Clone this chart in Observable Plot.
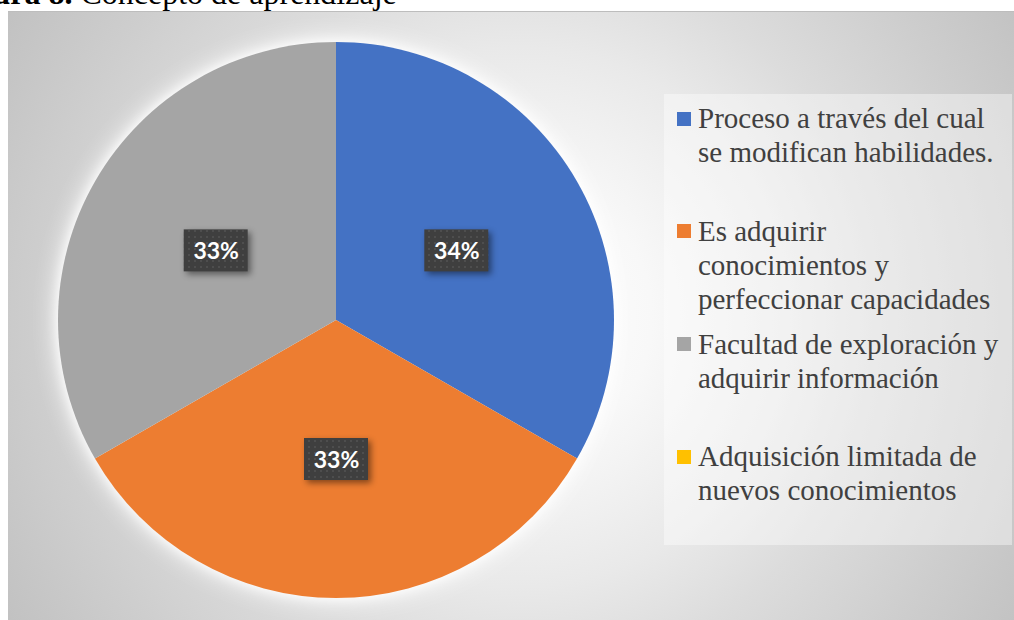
<!DOCTYPE html>
<html>
<head>
<meta charset="utf-8">
<script src="https://cdn.jsdelivr.net/npm/d3@7"></script>
<script src="https://cdn.jsdelivr.net/npm/@observablehq/plot@0.6"></script>
<style>
  body { margin: 0; background: #fff; }
  #wrap { position: relative; width: 1014px; height: 620px; overflow: hidden; background: #fff; }
  #frame { position: absolute; left: 8px; top: 11px; width: 1020px; height: 620px;
    border-top: 1px solid #bdbdbd;
    background: radial-gradient(circle 600px at 512px 305px, #ffffff 0%, #f8f8f8 22%, #e9e9e9 45%, #dcdcdc 60%, #cecece 80%, #c1c1c1 100%); }
  #title { position: absolute; top: -23px; left: -51px; font-family: "Liberation Serif", "Times New Roman", serif;
    font-size: 32px; line-height: 32px; white-space: pre; color: #000; }
  #chart { position: absolute; left: 0; top: 0; }
  #legend { position: absolute; left: 664px; top: 94px; width: 348px; height: 451px; background: rgba(255,255,255,0.4); }
  .item { position: absolute; left: 0; font-family: "Liberation Serif", "Times New Roman", serif; font-size: 29px; line-height: 34px; color: #404040; white-space: pre; }
  .sw { position: absolute; left: 13px; width: 14px; height: 14px; }
  .txt { position: absolute; left: 34px; top: 0; }
</style>
</head>
<body>
<div id="wrap">
  <div id="frame"></div>
  <div id="title"><b>Figura 8.</b> <span id="tmain">Concepto de aprendizaje</span></div>
  <div id="chart"></div>
  <div id="legend"></div>
</div>
<script>
// ---- Data ----
const categories = [
  "Proceso a través del cual se modifican habilidades.",
  "Es adquirir conocimientos y perfeccionar capacidades",
  "Facultad de exploración y adquirir información",
  "Adquisición limitada de nuevos conocimientos"
];
const values = [33.3, 33.4, 33.3, 0];
const percentLabels = ["34%", "33%", "33%", ""];
const colors = ["#4472C4", "#ED7D31", "#A5A5A5", "#FFC000"];
const legendLines = [
  ["Proceso a través del cual", "se modifican habilidades."],
  ["Es adquirir", "conocimientos y", "perfeccionar capacidades"],
  ["Facultad de exploración y", "adquirir información"],
  ["Adquisición limitada de", "nuevos conocimientos"]
];

// ---- Title alignment ----
(function () {
  const t = document.getElementById("title");
  const m = document.getElementById("tmain");
  t.style.left = (80 - m.offsetLeft) + "px";
})();

// ---- Pie layout ----
const data = categories.map((c, i) => ({ category: c, value: values[i], label: percentLabels[i], color: colors[i] }));
const arcs = d3.pie().sort(null).value(d => d.value)(data);
const slices = arcs.map(a => ({ ...a.data, startAngle: a.startAngle, endAngle: a.endAngle, padAngle: 0, mid: (a.startAngle + a.endAngle) / 2 }));
const labelData = slices.filter(d => d.value > 0).map(d => ({ ...d, lx: 0.5 * Math.sin(d.mid), ly: 0.5 * Math.cos(d.mid) }));

function pieMark(index, scales) {
  const cx = scales.x(0), cy = scales.y(0), r = scales.x(1) - scales.x(0);
  const g = d3.create("svg:g");
  const arc = d3.arc().innerRadius(0).outerRadius(r);
  g.append("g")
    .attr("transform", `translate(${cx},${cy})`)
    .style("filter", "drop-shadow(0 0 6px #fff) drop-shadow(0 0 12px rgba(255,255,255,0.9))")
    .selectAll("path").data(slices.filter(d => d.value > 0)).join("path")
    .attr("d", d => arc(d))
    .attr("fill", d => d.color);
  return g.node();
}

function boxMark(index, scales) {
  const g = d3.create("svg:g");
  const defs = g.append("defs");
  const pat = defs.append("pattern").attr("id", "dots").attr("width", 6).attr("height", 6).attr("patternUnits", "userSpaceOnUse");
  pat.append("rect").attr("width", 6).attr("height", 6).attr("fill", "#3f3f3f");
  pat.append("circle").attr("cx", 3).attr("cy", 3).attr("r", 0.9).attr("fill", "#555");
  const w = 64, h = 42;
  g.append("g")
    .style("filter", "drop-shadow(3px 3px 3px rgba(0,0,0,0.45))")
    .selectAll("rect").data(labelData).join("rect")
    .attr("x", d => scales.x(d.lx) - w / 2)
    .attr("y", d => scales.y(d.ly) - h / 2)
    .attr("width", w).attr("height", h)
    .attr("fill", "url(#dots)");
  return g.node();
}

const chart = Plot.plot({
  width: 1014,
  height: 620,
  margin: 0,
  x: { domain: [-1, 1], range: [58, 614], axis: null },
  y: { domain: [-1, 1], range: [598, 42], axis: null },
  style: { background: "transparent", overflow: "visible" },
  marks: [
    pieMark,
    boxMark,
    Plot.text(labelData, {
      x: "lx", y: "ly", text: "label",
      fill: "white", fontSize: 23, fontWeight: "bold",
      fontFamily: "Lato, 'Open Sans', sans-serif",
      textAnchor: "middle", lineAnchor: "middle", dy: 1
    })
  ]
});
document.getElementById("chart").appendChild(chart);

// ---- Legend ----
const legend = d3.select("#legend");
const items = legend.selectAll("div.item").data(data).join("div")
  .attr("class", "item")
  .style("top", (d, i) => (6.9 + 112.8 * i) + "px")
  .style("width", "340px");
items.append("div").attr("class", "sw")
  .style("top", "10.8px")
  .style("background", d => d.color);
items.append("div").attr("class", "txt")
  .text((d, i) => legendLines[i].join("\n"));
</script>
</body>
</html>
